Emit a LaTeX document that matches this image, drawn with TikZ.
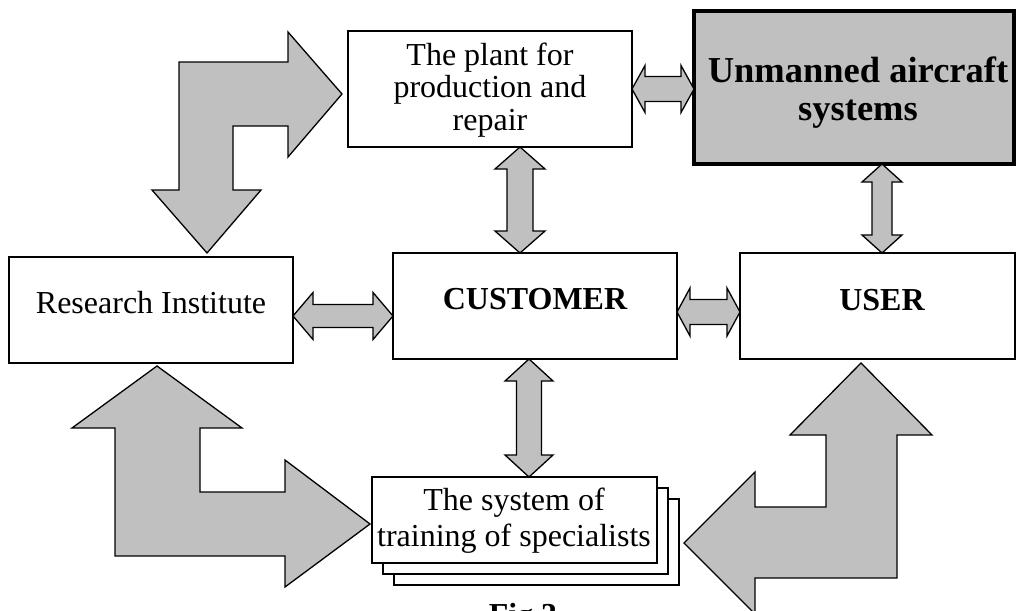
\documentclass[tikz,border=0pt]{standalone}
\usepackage{fontspec}
\setmainfont{Liberation Serif}
\usetikzlibrary{calc}
\definecolor{arrowgray}{RGB}{192,192,192}
\tikzset{
  box/.style={draw, line width=1.3pt, fill=white, inner sep=0pt, outer sep=0pt},
  blockarrow/.style={draw, line width=1.3pt, fill=arrowgray, line join=miter},
  txt/.style={inner sep=0pt, align=center, font=\fontsize{32}{32.5}\selectfont},
  btxt/.style={inner sep=0pt, align=center, font=\bfseries\fontsize{32}{32.5}\selectfont},
}
% horizontal double block arrow: #1 left tip, #2 right tip,
% #3 shaft half width, #4 head half width, #5 head length
\newcommand\hdarrow[5]{%
  \draw[blockarrow] (#1) -- ++(#5,-#4) -- ++(0,#4-#3) -- ($(#2)+(-#5,-#3)$)
    -- ++(0,#3-#4) -- (#2) -- ++(-#5,#4) -- ++(0,#3-#4)
    -- ($(#1)+(#5,#3)$) -- ++(0,#4-#3) -- cycle;}
% vertical double block arrow: #1 top tip, #2 bottom tip
\newcommand\vdarrow[5]{%
  \draw[blockarrow] (#1) -- ++(#4,#5) -- ++(#3-#4,0) -- ($(#2)+(#3,-#5)$)
    -- ++(#4-#3,0) -- (#2) -- ++(-#4,-#5) -- ++(#4-#3,0)
    -- ($(#1)+(-#3,#5)$) -- ++(#3-#4,0) -- cycle;}
\begin{document}
\begin{tikzpicture}[x=1pt,y=-1pt]
\useasboundingbox (0,0) rectangle (1016,610);

% boxes
\node[box, minimum width=284pt, minimum height=116pt] (plant) at (490,89) {};
\node[box, fill=arrowgray, line width=3.5pt, minimum width=320pt, minimum height=153pt] (uas) at (854,87.5) {};
\node[box, minimum width=284pt, minimum height=106pt] (ri) at (151,310) {};
\node[box, minimum width=284pt, minimum height=106pt] (cust) at (535,306) {};
\node[box, minimum width=275pt, minimum height=106pt] (user) at (877.5,306) {};
% stacked sheets of the training system
\node[box, minimum width=285pt, minimum height=86pt] (train3) at (536.5,542) {};
\node[box, minimum width=285pt, minimum height=86pt] (train2) at (525.5,531) {};
\node[box, minimum width=285pt, minimum height=86pt] (train) at (514.5,520) {};

% labels
\node[txt] (plant-t) at (490,90) {The plant for\\production and\\repair};
\node[btxt, font=\bfseries\fontsize{36.5}{38}\selectfont] (uas-t) at (858,92.5) {Unmanned aircraft\\systems};
\node[txt, anchor=base] (ri-t) at (151,313) {Research Institute};
\node[btxt, anchor=base] (cust-t) at (535,309) {CUSTOMER};
\node[btxt, anchor=base] (user-t) at (882,310) {USER};
\node[txt, font=\fontsize{32}{36}\selectfont] (train-t) at (514,520.5) {The system of\\training of specialists};
\node[btxt, anchor=base] (fig) at (523,625) {Fig.3};

% end points of the double arrows
\coordinate (pl-r) at (plant.east);
\coordinate (ua-l) at (pl-r -| uas.west);
\coordinate (pl-b) at ([xshift=30pt]plant.south);
\coordinate (cu-t) at (pl-b |- cust.north);
\coordinate (ua-b) at ([xshift=28pt]uas.south);
\coordinate (us-t) at (ua-b |- user.north);
\coordinate (ri-r) at ([yshift=-6pt]ri.east);
\coordinate (cu-l) at (ri-r -| cust.west);
\coordinate (cu-r) at ([yshift=-6pt]cust.east);
\coordinate (us-l) at (cu-r -| user.west);
\coordinate (cu-b) at ([xshift=-6pt]cust.south);
\coordinate (tr-t) at (cu-b |- train.north);

% double arrows
\hdarrow{pl-r}{ua-l}{12.5}{23.5}{13}
\vdarrow{pl-b}{cu-t}{13}{25}{22}
\vdarrow{ua-b}{us-t}{10}{20}{18}
\hdarrow{ri-r}{cu-l}{11.5}{23.5}{20}
\hdarrow{cu-r}{us-l}{12.5}{24}{13}
\vdarrow{cu-b}{tr-t}{12.5}{24}{22}

% bent arrows
\draw[blockarrow] (342,94) -- (288,32) -- (288,62) -- (179,62) -- (179,190)
  -- (152,190) -- (207,253) -- (261,190) -- (233,190) -- (233,126)
  -- (288,126) -- (288,157) -- cycle;
\draw[blockarrow] (157,366) -- (242,428) -- (200,428) -- (200,492) -- (285,492)
  -- (285,460) -- (370,524) -- (285,587) -- (285,556) -- (115,556)
  -- (115,428) -- (72,428) -- cycle;
\draw[blockarrow] (861,363) -- (932,435) -- (897,435) -- (897,578) -- (755,578)
  -- (755,614) -- (684,543) -- (755,472) -- (755,507) -- (826,507)
  -- (826,435) -- (790,435) -- cycle;
\end{tikzpicture}
\end{document}
